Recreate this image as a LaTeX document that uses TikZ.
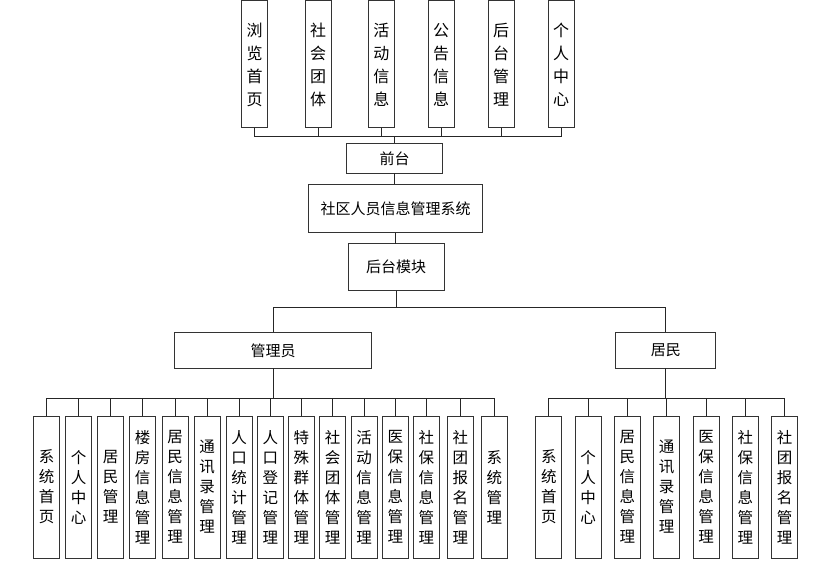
\documentclass[tikz,border=0pt]{standalone}
\usepackage{fontspec}
\newfontfamily\cjk{Noto Sans CJK SC}
\begin{document}
\begin{tikzpicture}[x=1pt,y=-1pt,
  box/.style={draw=black!80,line width=1pt,fill=white,inner sep=0pt,outer sep=0pt,
    font=\cjk\fontsize{15}{18}\selectfont,align=center},
  vtop/.style={box,minimum width=26pt,minimum height=127pt,font=\cjk\fontsize{16}{23}\selectfont},
  vbot/.style={box,minimum width=26pt,minimum height=142pt,font=\cjk\fontsize{15.5}{20}\selectfont},
  conn/.style={draw=black!85,line width=1pt}]
\useasboundingbox (0,0) rectangle (834,569);
% top row
\node[vtop] (t1) at (254.5,64.5) {浏\\览\\首\\页};
\node[vtop] (t2) at (318,64.5) {社\\会\\团\\体};
\node[vtop] (t3) at (381.3,64.5) {活\\动\\信\\息};
\node[vtop] (t4) at (441.2,64.5) {公\\告\\信\\息};
\node[vtop] (t5) at (501.2,64.5) {后\\台\\管\\理};
\node[vtop] (t6) at (561.2,64.5) {个\\人\\中\\心};
\node[box,minimum width=96pt,minimum height=30pt] (qt) at (394.5,158.5) {前台};
\node[box,minimum width=174pt,minimum height=48pt] (sys) at (395.5,208.5) {社区人员信息管理系统};
\node[box,minimum width=96pt,minimum height=47pt] (ht) at (396,267) {后台模块};
\node[box,minimum width=197pt,minimum height=36pt] (gly) at (273,350.3) {管理员};
\node[box,minimum width=100pt,minimum height=36pt] (jm) at (665.8,350.3) {居民};
% admin row
\node[vbot] (a1) at (46.7,487) {系\\统\\首\\页};
\node[vbot] (a2) at (78.7,487) {个\\人\\中\\心};
\node[vbot] (a3) at (110.7,487) {居\\民\\管\\理};
\node[vbot] (a4) at (142.7,487) {楼\\房\\信\\息\\管\\理};
\node[vbot] (a5) at (175,487) {居\\民\\信\\息\\管\\理};
\node[vbot] (a6) at (207,487) {通\\讯\\录\\管\\理};
\node[vbot] (a7) at (239,487) {人\\口\\统\\计\\管\\理};
\node[vbot] (a8) at (270.3,487) {人\\口\\登\\记\\管\\理};
\node[vbot] (a9) at (301.3,487) {特\\殊\\群\\体\\管\\理};
\node[vbot] (a10) at (332.7,487) {社\\会\\团\\体\\管\\理};
\node[vbot] (a11) at (364,487) {活\\动\\信\\息\\管\\理};
\node[vbot] (a12) at (395.3,487) {医\\保\\信\\息\\管\\理};
\node[vbot] (a13) at (426.3,487) {社\\保\\信\\息\\管\\理};
\node[vbot] (a14) at (460.3,487) {社\\团\\报\\名\\管\\理};
\node[vbot] (a15) at (494.3,487) {系\\统\\管\\理};
% resident row
\node[vbot] (r1) at (548.8,487) {系\\统\\首\\页};
\node[vbot] (r2) at (588.2,487) {个\\人\\中\\心};
\node[vbot] (r3) at (627.3,487) {居\\民\\信\\息\\管\\理};
\node[vbot] (r4) at (666.7,487) {通\\讯\\录\\管\\理};
\node[vbot] (r5) at (706,487) {医\\保\\信\\息\\管\\理};
\node[vbot] (r6) at (745.3,487) {社\\保\\信\\息\\管\\理};
\node[vbot] (r7) at (784.7,487) {社\\团\\报\\名\\管\\理};
% bus coordinates
\coordinate (topbus) at (394.5,136.7);
\coordinate (midbus) at (396,307.7);
\coordinate (abus) at (273,398);
\coordinate (rbus) at (665.8,398.3);
% top connectors
\foreach \i in {1,...,6} \draw[conn] (t\i.south) -- (t\i.south |- topbus);
\draw[conn] (t1.south |- topbus) -- (t6.south |- topbus);
\draw[conn] (topbus) -- (qt.north);
\draw[conn] (qt.south) -- (qt.south |- sys.north);
\draw[conn] (sys.south) -- (sys.south |- ht.north);
\draw[conn] (ht.south) -- (midbus);
\draw[conn] (gly.north) |- (midbus) -| (jm.north);
% admin connectors
\draw[conn] (gly.south) -- (abus);
\draw[conn] (a1.north |- abus) -- (a15.north |- abus);
\foreach \i in {1,...,15} \draw[conn] (a\i.north |- abus) -- (a\i.north);
% resident connectors
\draw[conn] (jm.south) -- (rbus);
\draw[conn] (r1.north |- rbus) -- (r7.north |- rbus);
\foreach \i in {1,...,7} \draw[conn] (r\i.north |- rbus) -- (r\i.north);
\end{tikzpicture}
\end{document}
